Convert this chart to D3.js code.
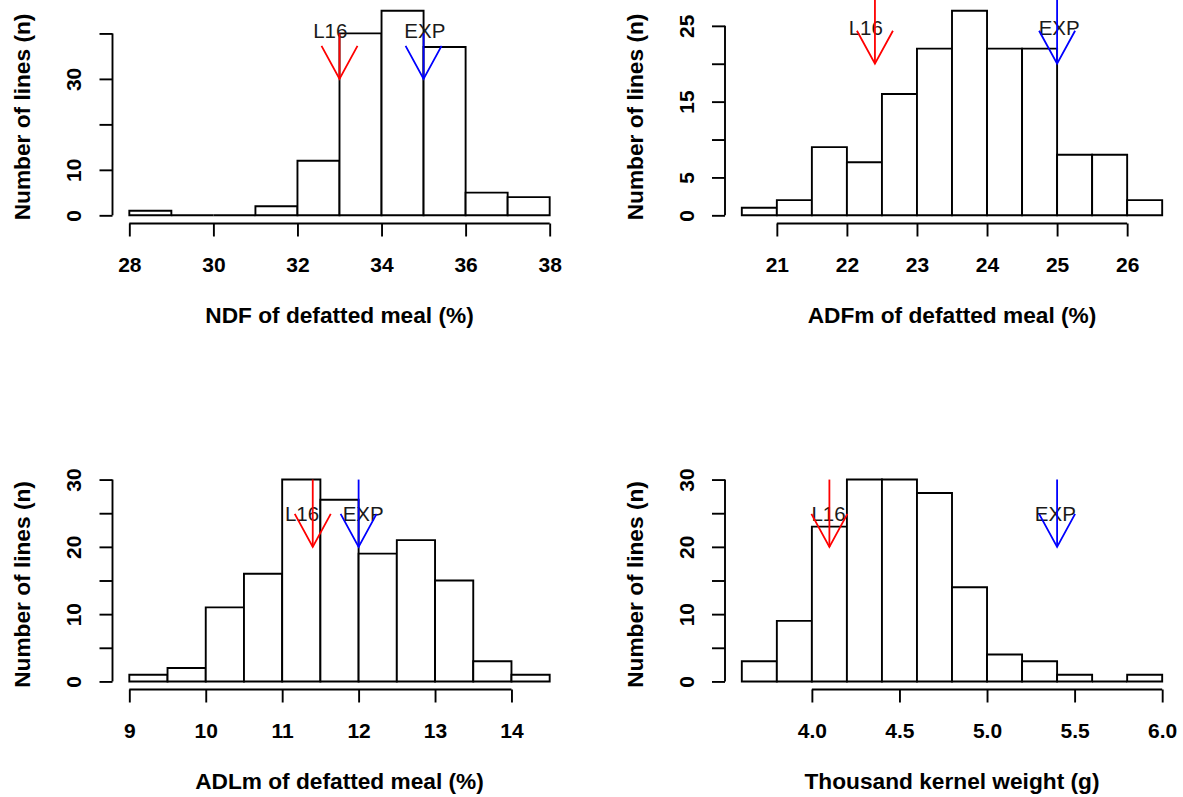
<!DOCTYPE html>
<html>
<head>
<meta charset="utf-8">
<script src="https://cdn.jsdelivr.net/npm/d3@7"></script>
<style>
  body { margin: 0; background: #fff; }
  svg { display: block; }
</style>
</head>
<body>
<svg id="chart" width="1183" height="797"></svg>
<script>
// ---- Histogram data: bin breaks and line counts ----
const ndfBreaks = [28, 29, 30, 31, 32, 33, 34, 35, 36, 37, 38];
const ndfCounts = [1, 0, 0, 2, 12, 40, 45, 37, 5, 4];

const adfBreaks = [20.5, 21, 21.5, 22, 22.5, 23, 23.5, 24, 24.5, 25, 25.5, 26, 26.5];
const adfCounts = [1, 2, 9, 7, 16, 22, 27, 22, 22, 8, 8, 2];

const adlBreaks = [9, 9.5, 10, 10.5, 11, 11.5, 12, 12.5, 13, 13.5, 14, 14.5];
const adlCounts = [1, 2, 11, 16, 30, 27, 19, 21, 15, 3, 1];

const tkwBreaks = [3.6, 3.8, 4.0, 4.2, 4.4, 4.6, 4.8, 5.0, 5.2, 5.4, 5.6, 5.8, 6.0];
const tkwCounts = [3, 9, 23, 30, 30, 28, 14, 4, 3, 1, 0, 1];

// ---- Reference lines (L16 and EXP) per panel ----
const l16Values = [33, 22.4, 11.4, 4.1];
const expValues = [35, 25, 12, 5.4];
const arrowFrom = [40, 30, 30, 30];
const arrowTo   = [30, 20, 20, 20];
const l16LabelX = [32.78, 22.27, 11.26, 4.095];
const expLabelX = [35.03, 25.03, 12.06, 5.39];
const markLabelY = [40.6, 24.7, 25, 25];

// ---- Axis ticks and labels ----
const ndfXTicks = [28, 30, 32, 34, 36, 38];
const adfXTicks = [21, 22, 23, 24, 25, 26];
const adlXTicks = [9, 10, 11, 12, 13, 14];
const tkwXTicks = [4.0, 4.5, 5.0, 5.5, 6.0];

const ndfYTicks = [0, 10, 20, 30, 40];
const ndfYLabels = [0, 10, 30];
const adfYTicks = [0, 5, 10, 15, 20, 25];
const adfYLabels = [0, 5, 15, 25];
const adlYTicks = [0, 5, 10, 15, 20, 25, 30];
const adlYLabels = [0, 10, 20, 30];
const tkwYTicks = [0, 5, 10, 15, 20, 25, 30];
const tkwYLabels = [0, 10, 20, 30];

const xTitles = [
  "NDF of defatted meal (%)",
  "ADFm of defatted meal (%)",
  "ADLm of defatted meal (%)",
  "Thousand kernel weight (g)"
];
const yTitle = "Number of lines (n)";

// ---- Layout: plot regions of the 2x2 grid ----
const columns = [[112.5, 566.5], [725, 1179]];
const rows = [[2.5, 223.5], [471.5, 689.5]];

const FONT = "'Liberation Sans', Arial, sans-serif";
const TICK_FONT = 21;
const TITLE_FONT = 22.7;
const MARK_FONT = 20.5;
const TICK_LEN = 13;
const LW = 1.9;

const panels = [
  { breaks: ndfBreaks, counts: ndfCounts, xTicks: ndfXTicks, xFmt: d3.format("d"),
    yTicks: ndfYTicks, yLabels: ndfYLabels, col: 0, row: 0 },
  { breaks: adfBreaks, counts: adfCounts, xTicks: adfXTicks, xFmt: d3.format("d"),
    yTicks: adfYTicks, yLabels: adfYLabels, col: 1, row: 0 },
  { breaks: adlBreaks, counts: adlCounts, xTicks: adlXTicks, xFmt: d3.format("d"),
    yTicks: adlYTicks, yLabels: adlYLabels, col: 0, row: 1 },
  { breaks: tkwBreaks, counts: tkwCounts, xTicks: tkwXTicks, xFmt: d3.format(".1f"),
    yTicks: tkwYTicks, yLabels: tkwYLabels, col: 1, row: 1 }
];

const svg = d3.select("#chart");
svg.append("rect").attr("width", 1183).attr("height", 797).attr("fill", "#fff");

panels.forEach((p, i) => {
  const [x0, x1] = columns[p.col];
  const [yTop, yBot] = rows[p.row];

  // R-style 4% padding on both scales
  const bMin = d3.min(p.breaks), bMax = d3.max(p.breaks);
  const xPad = (bMax - bMin) * 0.04;
  const x = d3.scaleLinear().domain([bMin - xPad, bMax + xPad]).range([x0, x1]);
  const cMax = d3.max(p.counts);
  const y = d3.scaleLinear().domain([-cMax * 0.04, cMax * 1.04]).range([yBot, yTop]);

  const g = svg.append("g");

  // bars as closed paths so empty bins still show their outline on the baseline
  const bins = p.counts.map((c, k) => ({ a: p.breaks[k], b: p.breaks[k + 1], c }));
  g.selectAll("path.bar").data(bins).join("path")
    .attr("class", "bar")
    .attr("d", d => `M${x(d.a)},${y(0)}V${y(d.c)}H${x(d.b)}V${y(0)}Z`)
    .attr("fill", "#fff")
    .attr("stroke", "#000")
    .attr("stroke-width", LW);

  // x axis (line spans first to last tick)
  const xAxis = d3.axisBottom(x).tickValues(p.xTicks).tickFormat(p.xFmt)
    .tickSizeInner(TICK_LEN).tickSizeOuter(0);
  const gx = g.append("g").attr("transform", `translate(0,${yBot})`).call(xAxis);
  gx.select(".domain")
    .attr("d", `M${x(p.xTicks[0])},0H${x(p.xTicks[p.xTicks.length - 1])}`)
    .attr("stroke", "#000").attr("stroke-width", LW);
  gx.selectAll(".tick line").attr("stroke", "#000").attr("stroke-width", LW);
  gx.selectAll(".tick text")
    .attr("y", 48.5).attr("dy", null)
    .attr("fill", "#000")
    .style("font-family", FONT).style("font-size", TICK_FONT + "px").style("font-weight", "bold");

  // y axis (labels rotated, some ticks unlabeled)
  const yAxis = d3.axisLeft(y).tickValues(p.yTicks)
    .tickFormat(d => p.yLabels.includes(d) ? String(d) : "")
    .tickSizeInner(TICK_LEN).tickSizeOuter(0);
  const gy = g.append("g").attr("transform", `translate(${x0},0)`).call(yAxis);
  gy.select(".domain")
    .attr("d", `M0,${y(p.yTicks[0])}V${y(p.yTicks[p.yTicks.length - 1])}`)
    .attr("stroke", "#000").attr("stroke-width", LW);
  gy.selectAll(".tick line").attr("stroke", "#000").attr("stroke-width", LW);
  gy.selectAll(".tick text")
    .attr("x", null).attr("dy", null)
    .attr("text-anchor", "middle")
    .attr("transform", "translate(-31.5,0) rotate(-90)")
    .attr("fill", "#000")
    .style("font-family", FONT).style("font-size", TICK_FONT + "px").style("font-weight", "bold");
  g.selectAll(".domain, .tick line").attr("fill", "none");

  // axis titles
  g.append("text")
    .attr("x", (x0 + x1) / 2).attr("y", yBot + 99)
    .attr("text-anchor", "middle")
    .style("font-family", FONT).style("font-size", TITLE_FONT + "px").style("font-weight", "bold")
    .attr("fill", "#000")
    .text(xTitles[i]);
  g.append("text")
    .attr("transform", `translate(${x0 - 82.4},${(yTop + yBot) / 2 + 4}) rotate(-90)`)
    .attr("text-anchor", "middle")
    .style("font-family", FONT).style("font-size", TITLE_FONT + "px").style("font-weight", "bold")
    .attr("fill", "#000")
    .text(yTitle);

  // marker labels
  const labels = [
    { t: "L16", x: l16LabelX[i] },
    { t: "EXP", x: expLabelX[i] }
  ];
  g.selectAll("text.mark").data(labels).join("text")
    .attr("class", "mark")
    .attr("x", d => x(d.x))
    .attr("y", y(markLabelY[i]) + 7.3)
    .attr("text-anchor", "middle")
    .style("font-family", FONT).style("font-size", MARK_FONT + "px")
    .attr("fill", "#1a1a1a")
    .text(d => d.t);

  // arrows
  const arrows = [
    { v: l16Values[i], color: "#ff0000" },
    { v: expValues[i], color: "#0000ff" }
  ];
  arrows.forEach(a => {
    const ax = x(a.v), yA = y(arrowFrom[i]), yB = y(arrowTo[i]);
    g.append("line")
      .attr("x1", ax).attr("x2", ax).attr("y1", yA).attr("y2", yB)
      .attr("stroke", a.color).attr("stroke-width", 1.8);
    g.append("path")
      .attr("d", `M${ax - 18},${yB - 33}L${ax},${yB}L${ax + 18},${yB - 33}`)
      .attr("fill", "none").attr("stroke", a.color).attr("stroke-width", 1.8);
  });
});
</script>
</body>
</html>
